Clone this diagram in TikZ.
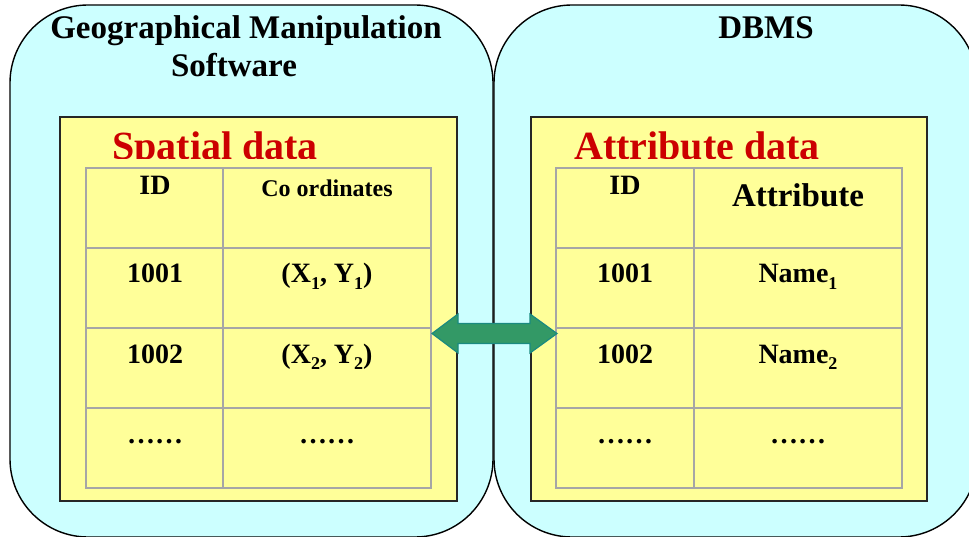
\documentclass[tikz,border=0pt]{standalone}
\usepackage{fontspec}
\setmainfont{Liberation Serif}
\definecolor{cyanbg}{HTML}{CCFFFF}
\definecolor{yellowbg}{HTML}{FFFF99}
\definecolor{titlered}{HTML}{CC0000}
\definecolor{gridgray}{HTML}{A6A6A6}
\definecolor{arrowfill}{HTML}{339966}
\definecolor{arrowdraw}{HTML}{1A8A80}
\newcommand\myfs[1]{\fontsize{#1}{#1}\selectfont\bfseries}
\newcommand\mysub[1]{\raisebox{-0.22em}{\fontsize{18}{18}\selectfont\bfseries #1}}
\begin{document}
\begin{tikzpicture}[x=1pt,y=-1pt,
  outerbox/.style={draw=black,line width=1.4pt,fill=cyanbg,rounded corners=78pt},
  panel/.style={draw=black!85,line width=1.3pt,fill=yellowbg},
  tabframe/.style={draw=gridgray,line width=2pt,fill=yellowbg},
  tabline/.style={draw=gridgray,line width=1.2pt},
  txt/.style={inner sep=0pt,anchor=base},
  head/.style={txt,font=\myfs{33}},
  title/.style={txt,anchor=base west,font=\myfs{40},text=titlered},
  hdr/.style={txt,font=\myfs{24}},
  cell/.style={txt,font=\myfs{28}}]
\useasboundingbox (0,0) rectangle (969,537);
\clip (0,0) rectangle (969,537);
% outer boxes
\draw[outerbox] (10,5) rectangle (493,537);
\draw[outerbox] (494,5) rectangle (977,537);
% headings
\node[head] (h1) at (246,39) {Geographical Manipulation};
\node[head] (h2) at (234,77) {Software};
\node[head] (h3) at (766,39) {DBMS};
% yellow panels
\draw[panel] (60,117) rectangle (457,501);
\draw[panel] (531,117) rectangle (927,501);
% titles (clipped by tables)
\begin{scope}
  \clip (60,117) rectangle (927,159);
  \node[title] (t1) at (112,160) {Spatial data};
  \node[title] (t2) at (574,160) {Attribute data};
\end{scope}
% left table
\draw[tabframe] (86,168) rectangle (431,488);
\foreach \yy in {248,328,408} \draw[tabline] (86,\yy) -- (431,\yy);
\draw[tabline] (223,168) -- (223,488);
% right table
\draw[tabframe] (556,168) rectangle (902,488);
\foreach \yy in {248,328,408} \draw[tabline] (556,\yy) -- (902,\yy);
\draw[tabline] (694,168) -- (694,488);
% left table text
\node[cell] (lid) at (155,195) {ID};
\node[hdr] (lco) at (327,197) {Co ordinates};
\node[cell] (l11) at (155,283) {1001};
\node[cell] (l12) at (327,283) {(X\mysub{1}, Y\mysub{1})};
\node[cell] (l21) at (155,363) {1002};
\node[cell] (l22) at (327,363) {(X\mysub{2}, Y\mysub{2})};
\node[cell] (l31) at (155,443) {……};
\node[cell] (l32) at (327,443) {……};
% right table text
\node[cell] (rid) at (625,195) {ID};
\node[txt,font=\myfs{33}] (rat) at (798,207) {Attribute};
\node[cell] (r11) at (625,283) {1001};
\node[cell] (r12) at (798,283) {Name\mysub{1}};
\node[cell] (r21) at (625,363) {1002};
\node[cell] (r22) at (798,363) {Name\mysub{2}};
\node[cell] (r31) at (625,443) {……};
\node[cell] (r32) at (798,443) {……};
% double arrow
\coordinate (al) at (432,333.5);
\coordinate (ar) at (557,333.5);
\filldraw[fill=arrowfill,draw=arrowdraw,line width=1.2pt,line join=miter]
  (al) -- (458,314) -- (458,323.5) -- (530,323.5) -- (530,314) -- (ar)
  -- (530,353) -- (530,343.5) -- (458,343.5) -- (458,353) -- cycle;
\end{tikzpicture}
\end{document}
